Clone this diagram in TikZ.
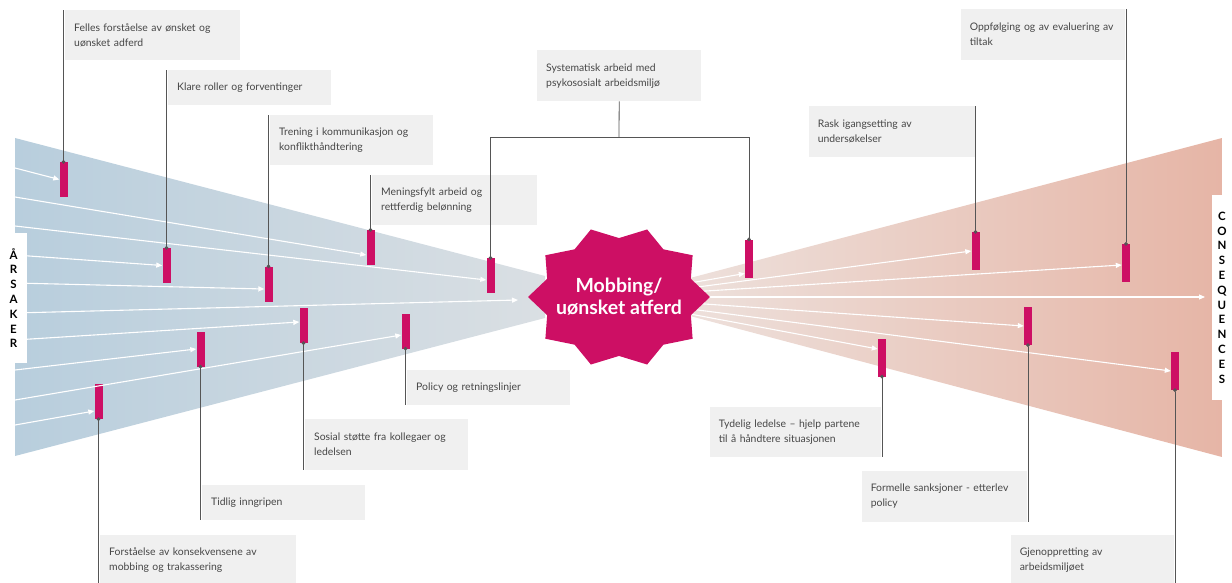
\documentclass[tikz,border=0pt]{standalone}
\usepackage{fontspec}
\setmainfont{Lato}
\usetikzlibrary{positioning,arrows.meta}
\definecolor{mobred}{RGB}{205,15,100}
\definecolor{causeblue}{RGB}{184,206,221}
\definecolor{causefade}{RGB}{218,223,227}
\definecolor{effred}{RGB}{230,181,166}
\definecolor{efffade}{RGB}{237,224,219}
\definecolor{boxgrey}{RGB}{240,240,240}
\definecolor{txtgrey}{RGB}{70,70,70}
\definecolor{pingrey}{RGB}{85,85,85}
\tikzset{
    tiltak/.style={
        fill=boxgrey,
        text=txtgrey,
        font=\fontsize{10.4}{15}\selectfont,
        align=left,
        inner xsep=9pt,
        inner ysep=0pt
    },
    tiltakbar/.style={
        fill=mobred,
        minimum width=8pt,
        minimum height=35pt,
        inner sep=0pt
    },
    rtiltakbar/.style={
        tiltakbar,
        minimum height=38pt
    },
    stem/.style={
        draw=pingrey,
        line width=0.8pt,
        {Circle[length=3.6pt]}-,
        shorten <=-1.8pt
    },
    flow/.style={
        draw=white,
        line width=1.1pt,
        -{Triangle[length=6pt,width=5pt]}
    },
    sidetag/.style={
        fill=white,
        font=\fontsize{11.5}{14.8}\selectfont\bfseries,
        align=center,
        inner sep=0pt
    }
}

\begin{document}
\begin{tikzpicture}[x=1pt,y=-1pt]
    \useasboundingbox (0,0) rectangle (1232,583);
    % funnels
    \shade[left color=causeblue, right color=causefade] (15,138) -- (545,276) -- (545,318) -- (15,456) -- cycle;
    \shade[left color=efffade, right color=effred] (690,278) -- (1222,138) -- (1222,457) -- (690,316) -- cycle;

    % causes side
    \node (l1) [tiltakbar] at (63.5,179.5) {};
    \node (l2) [tiltakbar] at (166.5,265.5) {};
    \node (l3) [tiltakbar] at (268.5,284) {};
    \node (l4) [tiltakbar] at (370.5,247.5) {};
    \node (l5) [tiltakbar] at (490.5,275.5) {};
    \node (l6) [tiltakbar] at (303.5,325.5) {};
    \node (l7) [tiltakbar] at (405.5,331) {};
    \node (l8) [tiltakbar] at (200.5,349) {};
    \node (l9) [tiltakbar] at (98.5,401.5) {};
    % consequences side
    \node (r1) [rtiltakbar] at (749,258.5) {};
    \node (r2) [rtiltakbar] at (975.5,251) {};
    \node (r3) [rtiltakbar] at (1126,263) {};
    \node (r4) [rtiltakbar] at (882,357.5) {};
    \node (r5) [rtiltakbar] at (1028,326) {};
    \node (r6) [rtiltakbar] at (1175,371) {};

    \coordinate (a1) at (15,168);
    \coordinate (a2) at (15,197);
    \coordinate (a3) at (15,226);
    \coordinate (a4) at (15,255);
    \coordinate (a5) at (15,283);
    \coordinate (a6) at (15,313);
    \coordinate (a7) at (15,340);
    \coordinate (a8) at (15,370);
    \coordinate (a9) at (15,400);
    \coordinate (a10) at (15,425);
    \coordinate (mobw) at (518,300);
    \coordinate (b1) at (690,283);
    \coordinate (b2) at (690,288);
    \coordinate (b3) at (690,292);
    \coordinate (b4) at (690,297);
    \coordinate (b5) at (690,303);
    \coordinate (b6) at (690,309);
    \coordinate (b7) at (690,314);
    \coordinate (cend) at (1205,297);

    \draw [flow] (a1) -- (l1.west);
    \draw [flow] (a2) -- ([yshift=-7.5pt]l4.west);
    \draw [flow] (a3) -- ([yshift=-4.5pt]l5.west);
    \draw [flow] (a4) -- (l2.west);
    \draw [flow] (a5) -- ([yshift=-5pt]l3.west);
    \draw [flow] (a6) -- (mobw);
    \draw [flow] (a7) -- ([yshift=3.5pt]l6.west);
    \draw [flow] (a8) -- (l8.west);
    \draw [flow] (a9) -- ([yshift=-4pt]l7.west);
    \draw [flow] (a10) -- ([yshift=-9.5pt]l9.west);
    \draw [flow] (b1) -- ([yshift=-15pt]r1.west);
    \draw [flow] (b2) -- (r2.west);
    \draw [flow] (b3) -- ([yshift=-2pt]r3.west);
    \draw [flow] (b4) -- (cend);
    \draw [flow] (b5) -- (r5.west);
    \draw [flow] (b6) -- (r6.west);
    \draw [flow] (b7) -- ([yshift=8.5pt]r4.west);

    % the star
    \fill[mobred] plot[variable=\t, samples at={0,18,...,342}]
        ({619+91*(1-0.17*mod(round(\t/18),2))*cos(\t)}, {297+71*(1-0.17*mod(round(\t/18),2))*sin(\t)}) -- cycle;
    \node (mob) [text=white, font=\fontsize{19.5}{22}\selectfont\bfseries, align=center] at (619,297) {Mobbing/\\uønsket atferd};

    % measures
    \node (lt1) [tiltak, text width=157pt, minimum height=50pt, anchor=north west] at (65,10) {Felles forståelse av ønsket og\\uønsket adferd};
    \node (lt2) [tiltak, text width=145pt, minimum height=35pt, anchor=north west] at (168,70) {Klare roller og forventinger};
    \node (lt3) [tiltak, text width=145pt, minimum height=50pt, anchor=north west] at (270,115) {Trening i kommunikasjon og\\konflikthåndtering};
    \node (lt4) [tiltak, text width=147pt, minimum height=50pt, anchor=north west] at (372,175) {Meningsfylt arbeid og\\rettferdig belønning};
    \node (sys) [tiltak, text width=146pt, minimum height=51pt, anchor=north west] at (537,50) {Systematisk arbeid med\\psykososialt arbeidsmiljø};
    \node (lt6) [tiltak, text width=145pt, minimum height=51pt, anchor=south west] at (305,470) {Sosial støtte fra kollegaer og\\ledelsen};
    \node (lt7) [tiltak, text width=145pt, minimum height=35pt, anchor=south west] at (407,405) {Policy og retningslinjer};
    \node (lt8) [tiltak, text width=145pt, minimum height=35pt, anchor=south west] at (202,520) {Tidlig inngripen};
    \node (lt9) [tiltak, text width=178pt, minimum height=50pt, anchor=north west] at (100,535) {Forståelse av konsekvensene av\\mobbing og trakassering};
    \node (rt2) [tiltak, text width=148pt, minimum height=51pt, anchor=north east] at (975,106) {Rask igangsetting av\\undersøkelser};
    \node (rt3) [tiltak, text width=146pt, minimum height=51pt, anchor=north east] at (1125,9) {Oppfølging og av evaluering av\\tiltak};
    \node (rt4) [tiltak, text width=153pt, minimum height=50pt, anchor=south east] at (881,457) {Tydelig ledelse – hjelp partene\\til å håndtere situasjonen};
    \node (rt5) [tiltak, text width=147pt, minimum height=51pt, anchor=south east] at (1027,522) {Formelle sanksjoner - etterlev\\policy};
    \node (rt6) [tiltak, text width=145pt, minimum height=50pt, anchor=north east] at (1174,535) {Gjenoppretting av\\arbeidsmiljøet};

    \coordinate (fork) at (619,137);
    \draw [stem] (l1.north) -- (l1.north |- lt1.north);
    \draw [stem] (l2.north) -- (l2.north |- lt2.north);
    \draw [stem] (l3.north) -- (l3.north |- lt3.north);
    \draw [stem] (l4.north) -- (l4.north |- lt4.north);
    \draw [stem] (l5.north) |- (fork);
    \draw [stem] (r1.north) |- (fork);
    \draw [draw=pingrey, line width=0.8pt] (sys.south) -- (fork);
    \draw [stem] (l6.south) -- (l6.south |- lt6.south);
    \draw [stem] (l7.south) -- (l7.south |- lt7.south);
    \draw [stem] (l8.south) -- (l8.south |- lt8.south);
    \draw [stem] (l9.south) -- (l9.south |- lt9.south);
    \draw [stem] (r2.north) -- (r2.north |- rt2.north);
    \draw [stem] (r3.north) -- (r3.north |- rt3.north);
    \draw [stem] (r4.south) -- (r4.south |- rt4.south);
    \draw [stem] (r5.south) -- (r5.south |- rt5.south);
    \draw [stem] (r6.south) -- (r6.south |- rt6.south);

    \node (cause) [sidetag, minimum width=27pt, minimum height=130pt] at (13.5,298) {Å\\R\\S\\A\\K\\E\\R};
    \node (effect) [sidetag, minimum width=20pt, minimum height=205pt] at (1222,297.5) {C\\O\\N\\S\\E\\Q\\U\\E\\N\\C\\E\\S};
\end{tikzpicture}
\end{document}
